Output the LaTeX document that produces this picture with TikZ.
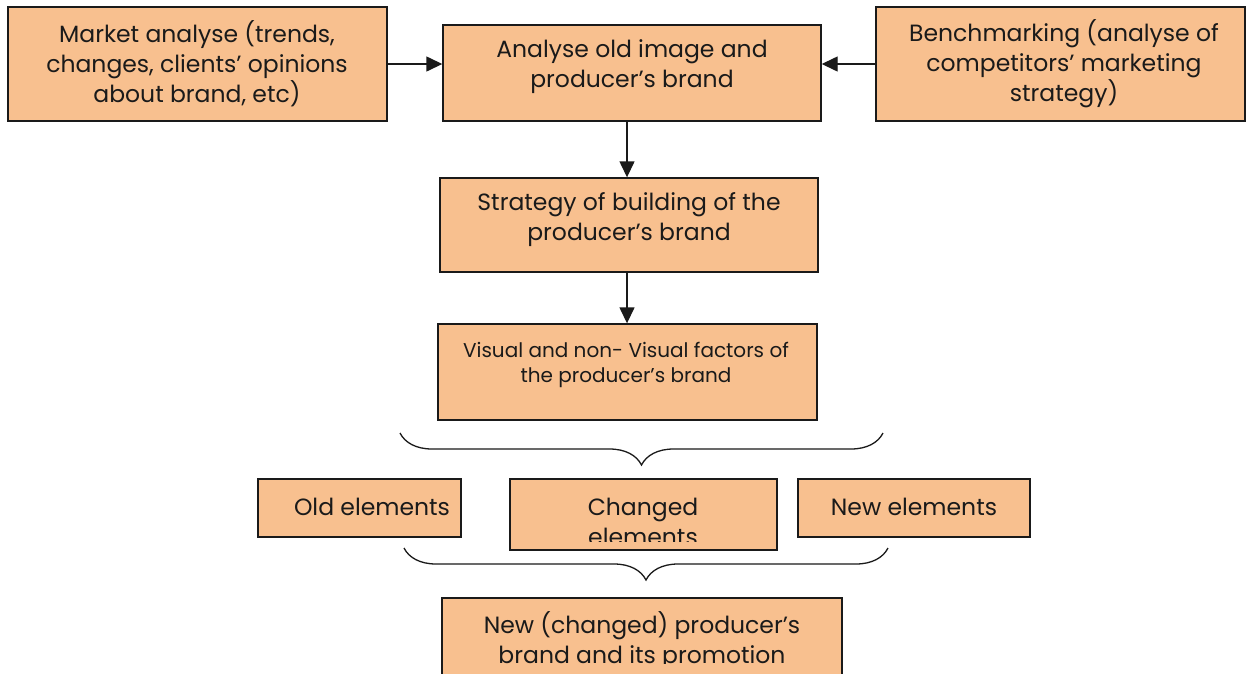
\documentclass[tikz,border=0pt]{standalone}
\usepackage{fontspec}
\setmainfont{Poppins}
\usetikzlibrary{decorations.pathreplacing,arrows.meta}
\definecolor{peach}{HTML}{F8C08F}
\definecolor{ink}{HTML}{1A1A1A}
\tikzset{
  box/.style={draw=ink, fill=peach, line width=1.4pt, inner sep=0pt},
  txt/.style={align=center, text=ink, font=\fontsize{23.5}{30}\selectfont, inner sep=0pt},
  smalltxt/.style={align=center, text=ink, font=\fontsize{20}{25}\selectfont, inner sep=0pt},
  arr/.style={draw=ink, line width=1.4pt, -{Triangle[length=16pt,width=15pt]}},
  brc/.style={draw=ink, line width=1.3pt, decorate, decoration={brace, mirror, amplitude=32pt, aspect=0.5}}
}
\begin{document}
\begin{tikzpicture}[x=1pt,y=-1pt]
\clip (0,0) rectangle (1252,673);
\fill[white] (0,0) rectangle (1252,673);
% boxes
\node[box, minimum width=379pt, minimum height=114pt] (market) at (197.5,64) {};
\node[box, minimum width=378pt, minimum height=96pt] (analyse) at (632,73) {};
\node[box, minimum width=369pt, minimum height=114pt] (bench) at (1060.5,64) {};
\node[box, minimum width=378pt, minimum height=94pt] (strategy) at (629,225) {};
\node[box, minimum width=379pt, minimum height=96pt] (visual) at (627.5,372) {};
\node[box, minimum width=203pt, minimum height=58pt] (old) at (359.5,508) {};
\node[box, minimum width=267pt, minimum height=71pt] (changed) at (643.5,514.5) {};
\node[box, minimum width=232pt, minimum height=58pt] (new) at (914,508) {};
\node[box, minimum width=400pt, minimum height=120pt] (final) at (642,658) {};
% texts
\node[txt] (tmarket) at (197,64) {Market analyse (trends,\\changes, clients’ opinions\\about brand, etc)};
\node[txt] (tanalyse) at (632,67) {Analyse old image and\\producer’s brand};
\node[txt] (tbench) at (1064,64) {Benchmarking (analyse of\\competitors’ marketing\\strategy)};
\node[txt] (tstrategy) at (629,220) {Strategy of building of the\\producer’s brand};
\node[smalltxt] (tvisual) at (626,364.5) {Visual and non- Visual factors of\\the producer’s brand};
\node[txt] (told) at (372,507) {Old elements};
\begin{scope}
\clip (511,480) rectangle (776,541);
\node[txt] (tchanged) at (643,522) {Changed\\elements};
\end{scope}
\node[txt] (tnew) at (914,507) {New elements};
\begin{scope}
\clip (443,599) rectangle (841,663);
\node[txt] (tfinal) at (642,640.5) {New (changed) producer’s\\brand and its promotion};
\end{scope}
% arrows
\draw[arr] (market.east) -- (analyse.west |- market.east);
\draw[arr] (bench.west) -- (analyse.east |- bench.west);
\draw[arr] (analyse.south -| 627,0) -- (strategy.north -| 627,0);
\draw[arr] (strategy.south -| 627,0) -- (visual.north -| 627,0);
% braces
\coordinate (b1l) at (400,433);
\coordinate (b1r) at (883,433);
\coordinate (b2l) at (404,548);
\coordinate (b2r) at (888,548);
\draw[brc] (b1l) -- (b1r);
\draw[brc] (b2l) -- (b2r);
\end{tikzpicture}
\end{document}
